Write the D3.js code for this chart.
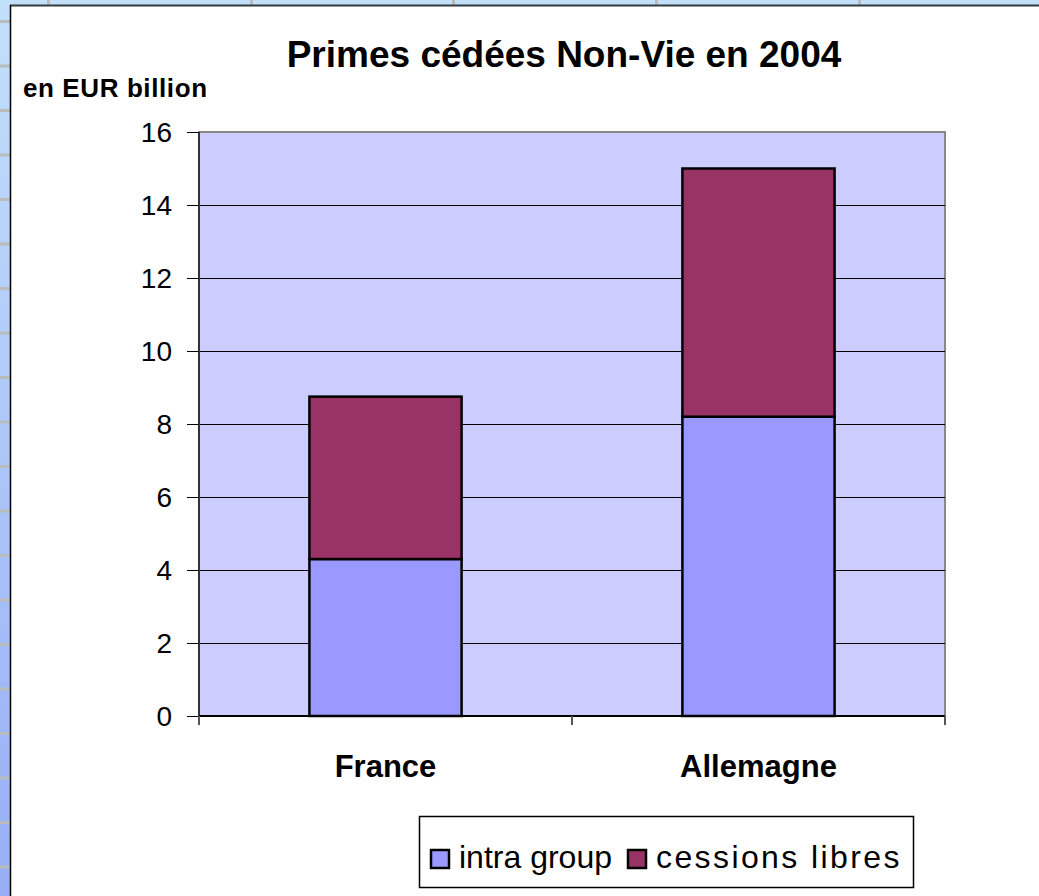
<!DOCTYPE html>
<html><head><meta charset="utf-8">
<script src="https://cdn.jsdelivr.net/npm/d3@7"></script>
<style>html,body{margin:0;padding:0;background:#fff;}svg{display:block;}</style>
</head><body>
<script>
const categories = ["France", "Allemagne"];
const seriesNames = ["intra group", "cessions libres"];
const intraGroup = [4.3, 8.2];
const cessionsLibres = [4.45, 6.8];
const yTicks = [0, 2, 4, 6, 8, 10, 12, 14, 16];
const colors = ["#9999ff", "#993366"];

const W = 1039, H = 896;
const FONT = "'Liberation Sans', Arial, sans-serif";
const svg = d3.select("body").append("svg").attr("width", W).attr("height", H)
  .style("font-family", FONT);

// spreadsheet-like background
const defs = svg.append("defs");
const lg = defs.append("linearGradient").attr("id", "lstrip").attr("x1", 0).attr("x2", 0).attr("y1", 0).attr("y2", 1);
lg.append("stop").attr("offset", "0%").attr("stop-color", "#c2e0fa");
lg.append("stop").attr("offset", "100%").attr("stop-color", "#97aef6");
svg.append("rect").attr("x", 0).attr("y", 0).attr("width", W).attr("height", 8).attr("fill", "#c2e0fa");
svg.append("rect").attr("x", 0).attr("y", 0).attr("width", 11).attr("height", H).attr("fill", "url(#lstrip)");
[47, 250, 452, 655, 858].forEach(x => svg.append("rect").attr("x", x).attr("y", 0).attr("width", 3).attr("height", 6).attr("fill", "#bbbbbb"));
d3.range(20, H, 44.5).forEach(y => svg.append("rect").attr("x", 0).attr("y", y).attr("width", 10).attr("height", 3).attr("fill", "#bbbbbb"));
// chart area
svg.append("rect").attr("x", 11).attr("y", 6).attr("width", W - 11).attr("height", H - 6).attr("fill", "#fff");
svg.append("line").attr("x1", 10).attr("x2", W).attr("y1", 5.5).attr("y2", 5.5).attr("stroke", "#333a40").attr("stroke-width", 2);
svg.append("line").attr("x1", 10.5).attr("x2", 10.5).attr("y1", 5).attr("y2", H).attr("stroke", "#000").attr("stroke-width", 1.5);

const plot = {l: 199, r: 945, t: 132, b: 716};
const xb = d3.scaleBand().domain(categories).range([plot.l, plot.r]);
const barW = xb.bandwidth() * 0.408;
const barX = c => xb(c) + (xb.bandwidth() - barW) / 2;
const y = d3.scaleLinear().domain([0, 16]).range([plot.b, plot.t]);

svg.append("rect").attr("x", plot.l).attr("y", plot.t).attr("width", plot.r - plot.l).attr("height", plot.b - plot.t)
  .attr("fill", "#ccccff").attr("stroke", "#888").attr("stroke-width", 2);

// gridlines
svg.append("g").selectAll("line").data(yTicks.filter(d => d > 0 && d < 16)).join("line")
  .attr("x1", plot.l).attr("x2", plot.r).attr("y1", d => Math.round(y(d)) + 0.5).attr("y2", d => Math.round(y(d)) + 0.5)
  .attr("stroke", "#000").attr("stroke-width", 1);

// stacked bars
const data = categories.map((c, i) => ({cat: c, intra: intraGroup[i], cess: cessionsLibres[i]}));
const stack = d3.stack().keys(["intra", "cess"])(data);
svg.append("g").selectAll("g").data(stack).join("g").attr("fill", (d, i) => colors[i])
  .selectAll("rect").data(d => d).join("rect")
  .attr("x", d => barX(d.data.cat)).attr("width", barW)
  .attr("y", d => y(d[1])).attr("height", d => y(d[0]) - y(d[1]))
  .attr("stroke", "#000").attr("stroke-width", 2.5);

// y axis
const yAxis = d3.axisLeft(y).tickValues(yTicks).tickSize(12).tickPadding(15).tickFormat(d3.format("d"));
const ga = svg.append("g").attr("transform", `translate(${plot.l},0)`).call(yAxis);
ga.select(".domain").attr("stroke", "#333").attr("stroke-width", 2).attr("d", `M0,${plot.t}V${plot.b}`);
ga.selectAll(".tick line").attr("stroke", "#000");
ga.selectAll(".tick text").attr("font-size", 28).attr("fill", "#000").attr("dy", "0.35em").style("font-family", FONT);

// x axis
svg.append("line").attr("x1", plot.l).attr("x2", plot.r).attr("y1", plot.b).attr("y2", plot.b).attr("stroke", "#000").attr("stroke-width", 2);
const bounds = [plot.l, ...categories.map(c => xb(c) + xb.bandwidth())];
svg.append("g").selectAll("line").data(bounds).join("line")
  .attr("x1", d => d).attr("x2", d => d).attr("y1", plot.b).attr("y2", plot.b + 9)
  .attr("stroke", "#555").attr("stroke-width", 2);
svg.append("g").selectAll("text").data(categories).join("text")
  .attr("x", d => xb(d) + xb.bandwidth() / 2).attr("y", 777)
  .attr("text-anchor", "middle").attr("font-size", 31).attr("font-weight", "bold").text(d => d);

// titles
svg.append("text").attr("x", 564).attr("y", 67).attr("text-anchor", "middle")
  .attr("font-size", 37).attr("font-weight", "bold").text("Primes cédées Non-Vie en 2004");
svg.append("text").attr("x", 23).attr("y", 97).attr("font-size", 26).attr("font-weight", "bold")
  .attr("letter-spacing", 0.6).text("en EUR billion");

// legend
const lgG = svg.append("g");
lgG.append("rect").attr("x", 419.5).attr("y", 816.5).attr("width", 494).attr("height", 71).attr("fill", "#fff").attr("stroke", "#000").attr("stroke-width", 1.5);
const legX = [431, 628];
const legSpacing = [0, 2.4];
seriesNames.forEach((n, i) => {
  lgG.append("rect").attr("x", legX[i]).attr("y", 850).attr("width", 18).attr("height", 18)
    .attr("fill", colors[i]).attr("stroke", "#000").attr("stroke-width", 2.5);
  lgG.append("text").attr("x", legX[i] + 28).attr("y", 868).attr("font-size", 32)
    .attr("letter-spacing", legSpacing[i]).text(n);
});
</script>
</body></html>
